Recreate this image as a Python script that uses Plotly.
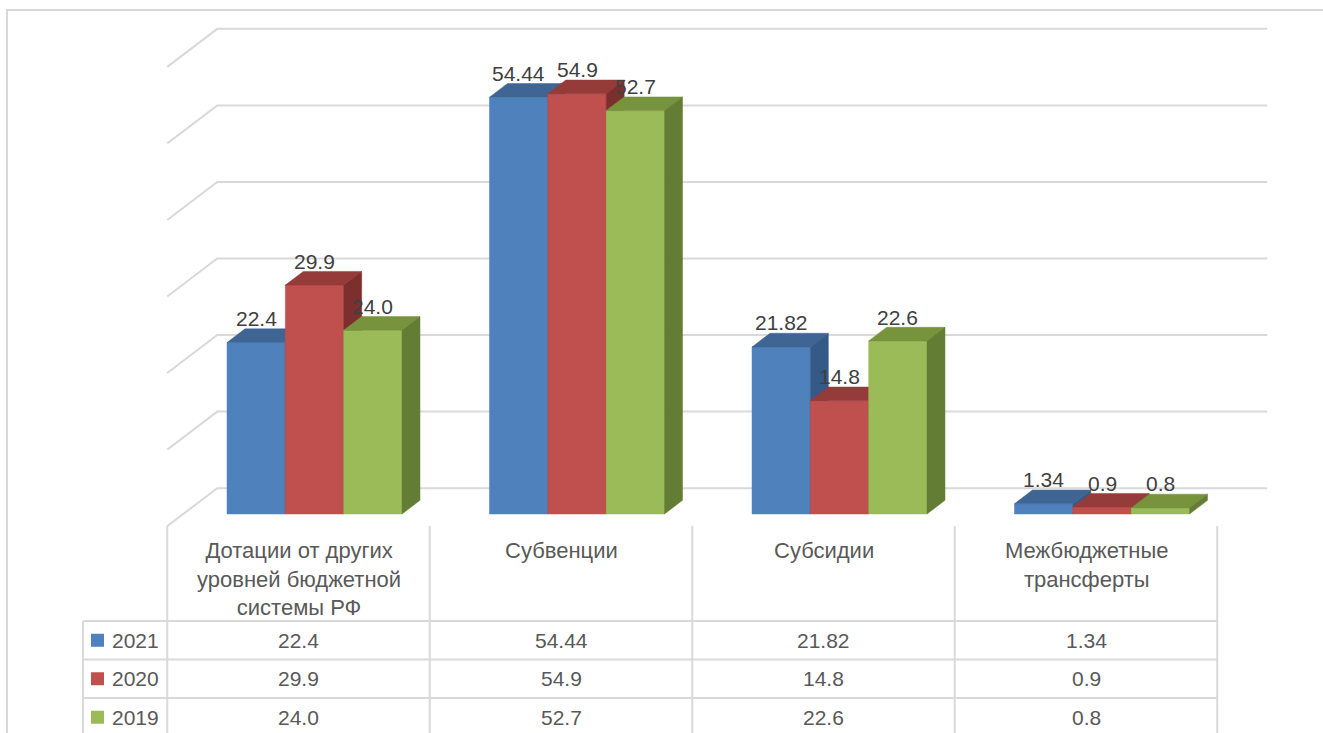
import plotly.graph_objects as go

# ---- data ----
categories = ["Дотации от других<br>уровней бюджетной<br>системы РФ", "Субвенции", "Субсидии",
              "Межбюджетные<br>трансферты"]
years = ["2021", "2020", "2019"]
v2021 = [22.4, 54.44, 21.82, 1.34]
v2020 = [29.9, 54.9, 14.8, 0.9]
v2019 = [24.0, 52.7, 22.6, 0.8]
labels2021 = ["22.4", "54.44", "21.82", "1.34"]
labels2020 = ["29.9", "54.9", "14.8", "0.9"]
labels2019 = ["24.0", "52.7", "22.6", "0.8"]
grid_values = [0, 10, 20, 30, 40, 50, 60]

series = [(years[0], v2021, labels2021), (years[1], v2020, labels2020), (years[2], v2019, labels2019)]

# ---- styling / geometry ----
W, H = 1323, 733
front_col = ["#4F81BD", "#C0504D", "#9BBB59"]
top_col = ["#3F6594", "#953C3A", "#77933C"]
side_col = ["#365A87", "#7D2F2D", "#647D34"]
grid_col = "#D9D9D9"

col_px = 262.5          # pixel width of one category
x0_px = 298.5           # pixel centre of first category
px_per_unit = 7.655     # pixels per value unit
zero_px = 514           # pixel row of value 0 at bar fronts
xr = [-x0_px / col_px, (W - x0_px) / col_px]
y_lo = -(H - zero_px) / px_per_unit
yr = [y_lo, y_lo + H / px_per_unit]

DX = 50 / col_px        # depth shift (x units) for full depth
DV = 38 / px_per_unit   # depth shift (value units) for full depth
D0, D1 = 0.32, 0.68     # bar front/back depth
BW = 0.6667 / 3         # bar width


def P(k, v, d):
    return k + DX * d, v + DV * (d - D0)


def py(p):  # pixel row -> paper
    return 1 - p / H


def px(p):
    return p / W


fig = go.Figure()

# gridlines (floor diag + back wall)
for g in grid_values:
    pts = [P(-0.5, g, 0), P(-0.5, g, 1), P(3.5, g, 1)]
    fig.add_trace(go.Scatter(x=[p[0] for p in pts], y=[p[1] for p in pts], mode="lines",
                             line=dict(color=grid_col, width=2), hoverinfo="skip", showlegend=False))


def face(pts, color):
    xs = [p[0] for p in pts] + [pts[0][0]]
    ys = [p[1] for p in pts] + [pts[0][1]]
    fig.add_trace(go.Scatter(x=xs, y=ys, mode="lines", fill="toself", fillcolor=color,
                             line=dict(color=color, width=0.5), hoverinfo="skip", showlegend=False))


annos = []
for k in range(len(categories)):
    for i, (name, vals, labs) in enumerate(series):
        v = vals[k]
        xl = k - 1.5 * BW + i * BW
        xrr = xl + BW
        face([P(xl, 0, D0), P(xrr, 0, D0), P(xrr, v, D0), P(xl, v, D0)], front_col[i])
        face([P(xl, v, D0), P(xrr, v, D0), P(xrr, v, D1), P(xl, v, D1)], top_col[i])
        face([P(xrr, 0, D0), P(xrr, 0, D1), P(xrr, v, D1), P(xrr, v, D0)], side_col[i])
        cx, cy = P(xl + BW / 2, v, D0)
        annos.append(dict(x=cx, y=cy, xref="x", yref="y", text=labs[k], showarrow=False,
                          yanchor="middle", yshift=24,
                          font=dict(size=21, color="#404040", family="Liberation Sans")))

shapes = []
line = dict(color=grid_col, width=2)
# outer border
shapes.append(dict(type="path", xref="paper", yref="paper",
                   path=f"M {px(7)} {py(740)} L {px(7)} {py(10)} L {px(1330)} {py(10)}", line=line))
# table vertical lines (category boundaries)
for b in range(len(categories) + 1):
    xb = b - 0.5
    shapes.append(dict(type="line", xref="x", yref="paper", x0=xb, x1=xb, y0=py(526), y1=py(740), line=line))
shapes.append(dict(type="line", xref="paper", yref="paper", x0=px(83), x1=px(83), y0=py(621), y1=py(740), line=line))
row_lines = [621, 659.5, 698, 736.5]
for r in row_lines:
    shapes.append(dict(type="line", xref="paper", yref="paper", x0=px(83), x1=(3.5 - xr[0]) / (xr[1] - xr[0]),
                       y0=py(r), y1=py(r), line=line))

tfont = dict(size=21, color="#595959", family="Liberation Sans")
hfont = dict(size=22, color="#595959", family="Liberation Sans")
# headers
for k, c in enumerate(categories):
    annos.append(dict(x=k, y=py(536), xref="x", yref="paper", text=c, showarrow=False,
                      yanchor="top", xanchor="center", font=hfont))
# table rows
for i, (name, vals, labs) in enumerate(series):
    rc = (row_lines[i] + row_lines[i + 1]) / 2
    for k in range(len(categories)):
        annos.append(dict(x=k, y=py(rc), xref="x", yref="paper", text=labs[k], showarrow=False,
                          yanchor="middle", xanchor="center", font=tfont))
    shapes.append(dict(type="rect", xref="paper", yref="paper", x0=px(91), x1=px(104),
                       y0=py(rc - 6.5), y1=py(rc + 6.5), fillcolor=front_col[i], line=dict(width=0)))
    annos.append(dict(x=px(110), y=py(rc), xref="paper", yref="paper", text=name, showarrow=False,
                      xanchor="left", yanchor="middle", font=tfont))

fig.update_layout(width=W, height=H, autosize=False, margin=dict(l=0, r=0, t=0, b=0),
                  paper_bgcolor="white", plot_bgcolor="white", shapes=shapes, annotations=annos,
                  xaxis=dict(range=xr, visible=False, fixedrange=True),
                  yaxis=dict(range=yr, visible=False, fixedrange=True),
                  showlegend=False)
fig.write_html("out.html", config={"displayModeBar": False},
               post_script="document.body.style.margin='0';document.body.style.overflow='hidden';")
